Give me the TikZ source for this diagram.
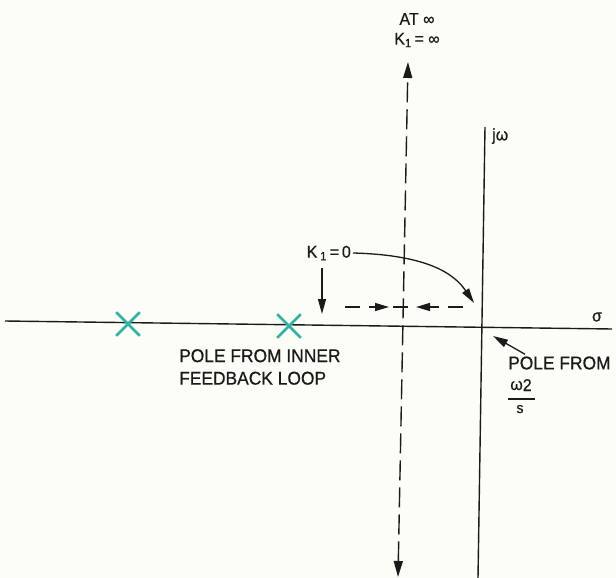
\documentclass[tikz,border=0pt]{standalone}
\usepackage{fontspec}
\setmainfont[FakeStretch=0.94,FakeBold=0.6]{Liberation Sans}
\usetikzlibrary{arrows.meta,shapes.misc}
\definecolor{paper}{HTML}{FDFDF7}
\definecolor{ink}{HTML}{1A1A1A}
\definecolor{polecol}{HTML}{2FB3A6}
\tikzset{
  axisline/.style={draw=ink,line width=1.4pt},
  arr/.style={draw=ink,line width=1.3pt,-{Triangle[length=15pt,width=8pt]}},
  darr/.style={draw=ink,line width=1.3pt,dash pattern=on 15pt off 9pt,-{Triangle[length=14pt,width=8pt]}},
  dvline/.style={draw=ink,line width=1.4pt,dash pattern=on 20pt off 7pt,{Triangle[length=16pt,width=9pt]}-{Triangle[length=16pt,width=9pt]}},
  polemark/.style={cross out,draw=polecol,line width=2.6pt,minimum size=21pt,inner sep=0pt},
  lbl/.style={font=\fontsize{17}{20}\selectfont,text=ink,inner sep=0pt},
  biglbl/.style={font=\fontsize{18.5}{22.5}\selectfont,text=ink,inner sep=0pt},
}
\begin{document}
\begin{tikzpicture}[x=1pt,y=-1pt]
\path[fill=paper,use as bounding box] (0,0) rectangle (616,578);
% axes
\coordinate (reL) at (5,321);
\coordinate (reR) at (612,329);
\coordinate (imT) at (485,127);
\coordinate (imB) at (478,578);
\draw[axisline] (reL) -- (reR);
\draw[axisline] (imT) -- (imB);
% dashed vertical with arrows
\coordinate (dvT) at (408,62);
\coordinate (dvB) at (398,577);
\draw[dvline] (dvB) -- (dvT);
% poles
\node[polemark] (p1) at (128,324) {};
\node[polemark] (p2) at (289,326) {};
% labels
\node[lbl] (atinf) at (417,19) {AT ∞};
\node[lbl] (kinf) at (417,40) {K\textsubscript{1}\,= ∞};
\node[lbl,anchor=west] (jw) at (492,136) {jω};
\node[lbl] (sig) at (597,317) {σ};
\node[lbl,anchor=east] (k0) at (351,253) {K\,\textsubscript{1}\,=\,0};
\node[biglbl,anchor=north west,align=left] (inner) at (179,349) {POLE FROM INNER\\FEEDBACK LOOP};
\node[biglbl,anchor=west] (pf) at (508,363) {POLE FROM};
\node[lbl,anchor=base] (w2) at (521,390) {ω\raisebox{-1pt}{2}};
\node[lbl,font=\fontsize{15}{18}\selectfont,anchor=base] (sden) at (520,413) {s};
\coordinate (barL) at (508,399);
\coordinate (barR) at (535,399);
\draw[ink,line width=1.3pt] (barL) -- (barR);
% arrows
\coordinate (k0tip) at (474,303);
\draw[arr] (k0.east) ++(2,0) .. controls (430,255) and (455,275) .. (k0tip);
\coordinate (kdT) at (322,268);
\coordinate (kdB) at (322,314);
\draw[arr] (kdT) -- (kdB);
\coordinate (hl1) at (345,307);
\coordinate (hl2) at (389,307);
\draw[darr] (hl1) -- (hl2);
\coordinate (hm1) at (393,307);
\coordinate (hm2) at (408,307);
\draw[ink,line width=1.3pt] (hm1) -- (hm2);
\coordinate (hr1) at (463,307);
\coordinate (hr2) at (416,307);
\draw[darr] (hr1) -- (hr2);
\coordinate (pft) at (493,336);
\draw[arr] (pf.north west) ++(17,-2) -- (pft);
\end{tikzpicture}
\end{document}
